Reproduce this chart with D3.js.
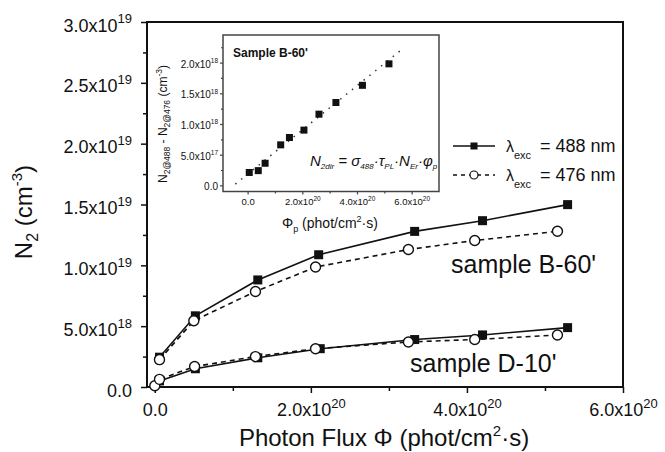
<!DOCTYPE html>
<html><head><meta charset="utf-8">
<script src="https://cdn.jsdelivr.net/npm/d3@7"></script>
<style>body{margin:0;background:#fff}svg{display:block}text{font-family:"Liberation Sans",Arial,sans-serif;fill:#111}</style>
</head><body><svg id="c" width="665" height="452"></svg>
<script>
// ---- data ----
const xB488 = [0.06e20, 0.52e20, 1.32e20, 2.10e20, 3.33e20, 4.20e20, 5.29e20];
const yB488 = [0.245e19, 0.585e19, 0.88e19, 1.087e19, 1.279e19, 1.367e19, 1.499e19];
const xB476 = [0.06e20, 0.50e20, 1.29e20, 2.06e20, 3.25e20, 4.10e20, 5.16e20];
const yB476 = [0.225e19, 0.545e19, 0.785e19, 0.986e19, 1.13e19, 1.204e19, 1.28e19];
const xD488 = [0.06e20, 0.52e20, 1.32e20, 2.12e20, 3.33e20, 4.20e20, 5.29e20];
const yD488 = [0.05e19, 0.15e19, 0.24e19, 0.315e19, 0.39e19, 0.428e19, 0.488e19];
const xD476 = [0.0, 0.06e20, 0.51e20, 1.29e20, 2.06e20, 3.25e20, 4.10e20, 5.16e20];
const yD476 = [0.01e19, 0.063e19, 0.168e19, 0.25e19, 0.315e19, 0.37e19, 0.39e19, 0.428e19];
const xInset = [0.06e20, 0.39e20, 0.64e20, 1.21e20, 1.53e20, 2.06e20, 2.61e20, 3.23e20, 4.20e20, 5.17e20];
const yInset = [0.21e18, 0.24e18, 0.36e18, 0.66e18, 0.78e18, 0.90e18, 1.16e18, 1.35e18, 1.63e18, 1.98e18];
const xFit = [-0.45e20, 5.6e20];
const yFit = [0.02e18, 2.2e18];
const yTicks = [0, 0.5e19, 1.0e19, 1.5e19, 2.0e19, 2.5e19, 3.0e19];
const yTickMant = ["0.0", "5.0x10", "1.0x10", "1.5x10", "2.0x10", "2.5x10", "3.0x10"];
const yTickExp = ["", "18", "19", "19", "19", "19", "19"];
const xTicks = [0, 2e20, 4e20, 6e20];
const xTickMant = ["0.0", "2.0x10", "4.0x10", "6.0x10"];
const xTickExp = ["", "20", "20", "20"];
const iyTicks = [0, 0.5e18, 1.0e18, 1.5e18, 2.0e18];
const iyTickMant = ["0.0", "5.0x10", "1.0x10", "1.5x10", "2.0x10"];
const iyTickExp = ["", "17", "18", "18", "18"];
const ixTicks = [0, 2e20, 4e20, 6e20];
const ixTickMant = ["0.0", "2.0x10", "4.0x10", "6.0x10"];
const ixTickExp = ["", "20", "20", "20"];
const legendNames = ["488", "476"];

const svg = d3.select("#c");
svg.append("rect").attr("width",665).attr("height",452).attr("fill","#fff");

const L=147,R=623,T=22,B=387;
const x = d3.scaleLinear().domain([-0.1e20, 6e20]).range([L,R]);
const y = d3.scaleLinear().domain([0, 3e19]).range([B,T]);

function labelWithExp(sel, mant, exp, fs, es){
  sel.each(function(d,i){
    const t = d3.select(this); t.text(null);
    t.append("tspan").text(mant[i]);
    if(exp[i]) t.append("tspan").attr("dy", -fs*0.45).attr("font-size", es).text(exp[i]);
  });
}

// axes
const gy = svg.append("g").attr("transform",`translate(${L},0)`)
  .call(d3.axisLeft(y).tickValues(yTicks).tickSize(6).tickPadding(9));
gy.selectAll("text").attr("font-size",18).attr("dy","0.5em").attr("font-family","Liberation Sans, Arial");
labelWithExp(gy.selectAll(".tick text"), yTickMant, yTickExp, 18, 13);
const gym = svg.append("g").attr("transform",`translate(${L},0)`)
  .call(d3.axisLeft(y).tickValues(d3.range(0.25e19, 3e19, 0.5e19)).tickSize(4).tickFormat(""));
const gx = svg.append("g").attr("transform",`translate(0,${B})`)
  .call(d3.axisBottom(x).tickValues(xTicks).tickSize(6).tickPadding(8));
gx.selectAll("text").attr("font-size",18).attr("dy","0.85em").attr("font-family","Liberation Sans, Arial");
labelWithExp(gx.selectAll(".tick text"), xTickMant, xTickExp, 18, 13);
const gxm = svg.append("g").attr("transform",`translate(0,${B})`)
  .call(d3.axisBottom(x).tickValues([1e20,3e20,5e20]).tickSize(4).tickFormat(""));
[gy,gym,gx,gxm].forEach(g=>{g.select(".domain").remove(); g.selectAll("line").attr("stroke","#111").attr("stroke-width",1.5);});
svg.append("rect").attr("x",L).attr("y",T).attr("width",R-L).attr("height",B-T)
  .attr("fill","none").attr("stroke","#111").attr("stroke-width",2);

// series
const line = d3.line().x(d=>x(d[0])).y(d=>y(d[1]));
function series(xs, ys, dashed, filled){
  const pts = xs.map((v,i)=>[v, ys[i]]);
  svg.append("path").attr("d", line(pts)).attr("fill","none").attr("stroke","#111")
    .attr("stroke-width",1.6).attr("stroke-dasharray", dashed?"5,4":null);
  if(filled){
    svg.selectAll(null).data(pts).enter().append("rect")
      .attr("x",d=>x(d[0])-4.5).attr("y",d=>y(d[1])-4.5).attr("width",9).attr("height",9).attr("fill","#111");
  } else {
    svg.selectAll(null).data(pts).enter().append("circle")
      .attr("cx",d=>x(d[0])).attr("cy",d=>y(d[1])).attr("r",5).attr("fill","#fff").attr("stroke","#111").attr("stroke-width",1.4);
  }
}
series(xD488, yD488, false, true);
series(xD476, yD476, true, false);
series(xB488, yB488, false, true);
series(xB476, yB476, true, false);

// sample labels
svg.append("text").attr("x",451).attr("y",273).attr("font-size",25).text("sample B-60'");
svg.append("text").attr("x",410).attr("y",372).attr("font-size",25).text("sample D-10'");

// legend
legendNames.forEach((nm,i)=>{
  const ly = 146 + i*29;
  svg.append("line").attr("x1",453).attr("x2",495).attr("y1",ly).attr("y2",ly).attr("stroke","#111")
    .attr("stroke-width",1.6).attr("stroke-dasharray", i? "4,4": null);
  if(i===0) svg.append("rect").attr("x",470.5).attr("y",ly-3.5).attr("width",7).attr("height",7).attr("fill","#111");
  else svg.append("circle").attr("cx",474).attr("cy",ly).attr("r",4).attr("fill","#fff").attr("stroke","#111").attr("stroke-width",1.2);
  const t = svg.append("text").attr("x",506).attr("y",ly+6).attr("font-size",18);
  t.append("tspan").text("λ").attr("font-size",16);
  t.append("tspan").attr("dy",7).attr("font-size",11).text("exc");
  t.append("tspan").attr("x",540).attr("dy",-7).text(`= ${nm} nm`);
});

// axis titles
const xt = svg.append("text").attr("x",384).attr("y",446).attr("text-anchor","middle").attr("font-size",24);
xt.append("tspan").text("Photon Flux Φ (phot/cm");
xt.append("tspan").attr("dy",-10).attr("font-size",15).text("2");
xt.append("tspan").attr("dy",10).text("·s)");
const yt = svg.append("text").attr("transform","translate(32,212) rotate(-90)").attr("text-anchor","middle").attr("font-size",24);
yt.append("tspan").text("N");
yt.append("tspan").attr("dy",6).attr("font-size",16).text("2");
yt.append("tspan").attr("dy",-6).text(" (cm");
yt.append("tspan").attr("dy",-10).attr("font-size",15).text("-3");
yt.append("tspan").attr("dy",10).text(")");

// ---- inset ----
const iL=223,iR=439,iT=35,iB=191.5;
const ix = d3.scaleLinear().domain([-0.9e20, 7e20]).range([iL,iR]);
const iy = d3.scaleLinear().domain([-0.1e18, 2.45e18]).range([iB,iT]);
svg.append("rect").attr("x",iL).attr("y",iT).attr("width",iR-iL).attr("height",iB-iT)
  .attr("fill","#fff").attr("stroke","#444").attr("stroke-width",1.5);
const igy = svg.append("g").attr("transform",`translate(${iL},0)`)
  .call(d3.axisLeft(iy).tickValues(iyTicks).tickSize(3).tickPadding(2));
igy.selectAll("text").attr("font-size",10).attr("dy","0.45em");
labelWithExp(igy.selectAll(".tick text"), iyTickMant, iyTickExp, 10, 6.5);
const igym = svg.append("g").attr("transform",`translate(${iL},0)`)
  .call(d3.axisLeft(iy).tickValues([0.25e18,0.75e18,1.25e18,1.75e18,2.25e18]).tickSize(2).tickFormat(""));
const igx = svg.append("g").attr("transform",`translate(0,${iB})`)
  .call(d3.axisBottom(ix).tickValues(ixTicks).tickSize(3).tickPadding(3));
igx.selectAll("text").attr("font-size",9.5).attr("dy","0.8em");
labelWithExp(igx.selectAll(".tick text"), ixTickMant, ixTickExp, 9.5, 6.5);
const igxm = svg.append("g").attr("transform",`translate(0,${iB})`)
  .call(d3.axisBottom(ix).tickValues([1e20,3e20,5e20]).tickSize(2).tickFormat(""));
[igy,igym,igx,igxm].forEach(g=>{g.select(".domain").remove(); g.selectAll("line").attr("stroke","#444").attr("stroke-width",1.2);});

const fitPts = xFit.map((v,i)=>[v,yFit[i]]);
svg.append("path").attr("d", d3.line().x(d=>ix(d[0])).y(d=>iy(d[1]))(fitPts))
  .attr("stroke","#333").attr("stroke-width",1.5).attr("stroke-dasharray","1.5,6").attr("fill","none");
svg.selectAll(null).data(xInset.map((v,i)=>[v,yInset[i]])).enter().append("rect")
  .attr("x",d=>ix(d[0])-3.5).attr("y",d=>iy(d[1])-3.5).attr("width",7).attr("height",7).attr("fill","#111");

svg.append("text").attr("x",233).attr("y",57).attr("font-size",12).attr("font-weight","bold").text("Sample B-60'");

const ft = svg.append("text").attr("x",310).attr("y",166).attr("font-size",15)
  .attr("font-family","Liberation Serif, Times New Roman, serif").attr("font-style","italic");
ft.append("tspan").text("N");
ft.append("tspan").attr("dy",3).attr("font-size",8).text("2dir");
ft.append("tspan").attr("dy",-3).text(" = σ");
ft.append("tspan").attr("dy",3).attr("font-size",8).text("488");
ft.append("tspan").attr("dy",-3).text("·τ");
ft.append("tspan").attr("dy",3).attr("font-size",8).text("PL");
ft.append("tspan").attr("dy",-3).text("·N");
ft.append("tspan").attr("dy",3).attr("font-size",8).text("Er");
ft.append("tspan").attr("dy",-3).text("·φ");
ft.append("tspan").attr("dy",3).attr("font-size",8).text("p");

const ixt = svg.append("text").attr("x",330).attr("y",228).attr("text-anchor","middle").attr("font-size",14);
ixt.append("tspan").text("Φ");
ixt.append("tspan").attr("dy",4).attr("font-size",9).text("p");
ixt.append("tspan").attr("dy",-4).text(" (phot/cm");
ixt.append("tspan").attr("dy",-6).attr("font-size",9).text("2");
ixt.append("tspan").attr("dy",6).text("·s)");

const iyt = svg.append("text").attr("transform","translate(167,124) rotate(-90)").attr("text-anchor","middle").attr("font-size",12);
iyt.append("tspan").text("N");
iyt.append("tspan").attr("dy",3).attr("font-size",8.5).text("2@488");
iyt.append("tspan").attr("dy",-3).text(" - N");
iyt.append("tspan").attr("dy",3).attr("font-size",8.5).text("2@476");
iyt.append("tspan").attr("dy",-3).text(" (cm");
iyt.append("tspan").attr("dy",-5).attr("font-size",8.5).text("-3");
iyt.append("tspan").attr("dy",5).text(")");
</script></body></html>
